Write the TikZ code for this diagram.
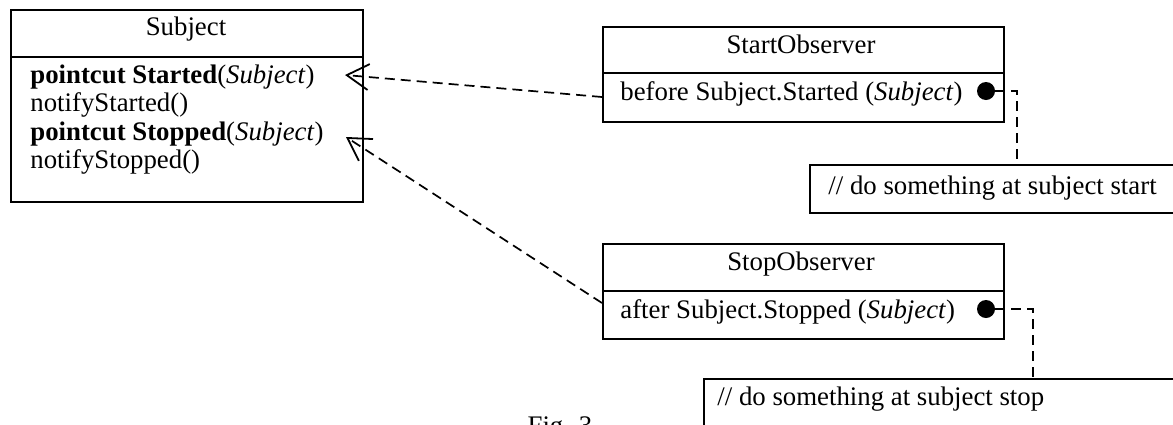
\documentclass[tikz,border=0pt]{standalone}
\usepackage{fontspec}
\setmainfont{Liberation Serif}
\usetikzlibrary{arrows.meta,positioning}

\begin{document}
\begin{tikzpicture}[x=0.5pt,y=-0.5pt,
  every node/.style={font=\fontsize{13.4}{15}\selectfont,inner sep=0pt},
  umlbox/.style={draw,line width=1pt,anchor=north west},
  dep/.style={dash pattern=on 5pt off 3pt,line width=0.85pt},
  realize/.style={dep,-{Straight Barb[length=11pt,width=13pt,line width=0.9pt]}},
  dot/.style={circle,fill,minimum size=9pt}]
\useasboundingbox (0,0) rectangle (1173,424);
\clip (0,0) rectangle (1173,424);

% Subject class
\node[umlbox,minimum width=176pt,minimum height=96pt] (subject) at (10,9) {};
\draw[line width=1pt] (10,57) -- (362,57);
\node[anchor=base] (subjName) at (186,35) {Subject};
\foreach \t [count=\i] in {
  {\textbf{pointcut Started}(\textit{Subject})},
  {notifyStarted()},
  {\textbf{pointcut Stopped}(\textit{Subject})},
  {notifyStopped()}
}{
  \node[anchor=base west] (subjOp\i) at (30,{83+(\i-1)*28.5}) {\t};
}

% observers
\node[umlbox,minimum width=200.5pt,minimum height=47.5pt] (startObs) at (602,26) {};
\draw[line width=1pt] (602,73) -- (1003,73);
\node[anchor=base] (startName) at (801,53) {StartObserver};
\node[anchor=base west] (startAdv) at (620,100) {before Subject.Started (\textit{Subject})};
\node[dot] (startDot) at (986,91) {};

\node[umlbox,minimum width=200.5pt,minimum height=47.5pt] (stopObs) at (602,243) {};
\draw[line width=1pt] (602,291) -- (1003,291);
\node[anchor=base] (stopName) at (801,270) {StopObserver};
\node[anchor=base west] (stopAdv) at (620,318) {after Subject.Stopped (\textit{Subject})};
\node[dot] (stopDot) at (986,309) {};

% notes
\node[umlbox,minimum width=190pt,minimum height=24pt] (startNote) at (809,164) {};
\node[anchor=base west] (startNoteText) at (828,194) {// do something at subject start};
\node[umlbox,minimum width=250pt,minimum height=30pt] (stopNote) at (703,378) {};
\node[anchor=base west] (stopNoteText) at (717,405) {// do something at subject stop};

% connectors
\coordinate (startTail) at (602,97);
\coordinate (startedTip) at (345,75);
\coordinate (stopTail) at (602,303);
\coordinate (stoppedTip) at (346,137);
\coordinate (startLink) at (1017,164);
\coordinate (stopLink) at (1033,378);
\draw[realize] (startTail) -- (startedTip);
\draw[realize] (stopTail) -- (stoppedTip);
\draw[dep] (startDot.east) -| (startLink);
\draw[dep] (stopDot.east) -| (stopLink);

\node[anchor=base] (figCap) at (560,434) {Fig. 3};
\end{tikzpicture}
\end{document}
